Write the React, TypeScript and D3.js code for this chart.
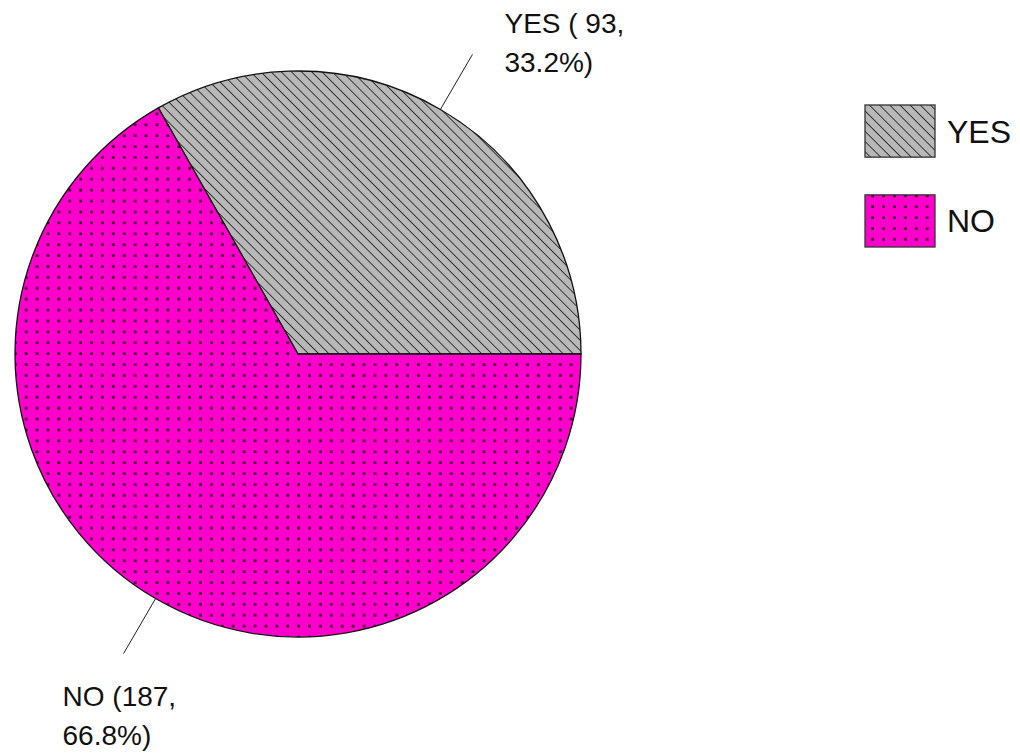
import React from "react";
import * as d3 from "d3";

const categories = ["YES", "NO"];
const values = [93, 187];
const labelLines = [
  ["YES ( 93,", "33.2%)"],
  ["NO (187,", "66.8%)"],
];

const W = 1020;
const H = 753;
const cx = 298;
const cy = 354;
const R = 283;

export default function App() {
  const pie = d3
    .pie<number>()
    .sort(null)
    .startAngle(Math.PI / 2)
    .endAngle(Math.PI / 2 - 2 * Math.PI);
  const arcs = pie(values);
  const arc = d3.arc<d3.PieArcDatum<number>>().innerRadius(0).outerRadius(R);
  const fills = ["url(#hatch)", "url(#dots)"];
  const legendY = d3.scaleBand<string>().domain(categories).range([105, 247]).paddingInner(0.42);

  return (
    <svg
      width={W}
      height={H}
      style={{ position: "absolute", left: 0, top: 0, background: "#fff" }}
      fontFamily="'Liberation Sans', Arial, sans-serif"
    >
      <defs>
        <pattern id="hatch" patternUnits="userSpaceOnUse" width="7.2" height="7.2" patternTransform="rotate(-45)">
          <rect width="7.2" height="7.2" fill="#b8b8b8" />
          <line x1="0" y1="0" x2="0" y2="7.2" stroke="#000" strokeWidth="1.4" />
        </pattern>
        <pattern id="dots" patternUnits="userSpaceOnUse" width="10.9" height="10.9" x="6" y="5">
          <rect width="10.9" height="10.9" fill="#ff00cc" />
          <rect x="4.3" y="4.3" width="2.6" height="2.6" fill="#2a0522" />
        </pattern>
      </defs>
      <g transform={`translate(${cx},${cy})`}>
        {arcs.map((a, i) => (
          <path key={i} d={arc(a) || ""} fill={fills[i]} stroke="#111" strokeWidth={1.3} />
        ))}
        {arcs.map((a, i) => {
          const mid = (a.startAngle + a.endAngle) / 2;
          const x1 = R * Math.sin(mid);
          const y1 = -R * Math.cos(mid);
          const x2 = R * 1.225 * Math.sin(mid);
          const y2 = -R * 1.225 * Math.cos(mid);
          return <line key={i} x1={x1} y1={y1} x2={x2} y2={y2} stroke="#222" strokeWidth={1} />;
        })}
        {arcs.map((a, i) => {
          const mid = (a.startAngle + a.endAngle) / 2;
          const x2 = R * 1.225 * Math.sin(mid);
          const y2 = -R * 1.225 * Math.cos(mid);
          const up = y2 < 0;
          const tx = up ? x2 + 32 : x2 - 61;
          const ty = up ? y2 - 21 : y2 + 52;
          return (
            <text key={i} x={tx} y={ty} fontSize={28} fill="#111">
              <tspan x={tx} dy={0}>{labelLines[i][0]}</tspan>
              <tspan x={tx} dy={39}>{labelLines[i][1]}</tspan>
            </text>
          );
        })}
      </g>
      <g>
        {categories.map((c, i) => (
          <g key={c}>
            <rect
              x={865}
              y={legendY(c)}
              width={70}
              height={legendY.bandwidth()}
              fill={fills[i]}
              stroke="#333"
              strokeWidth={1.3}
            />
            <text x={947} y={(legendY(c) || 0) + legendY.bandwidth() / 2 + 11.5} fontSize={32} fill="#111">
              {c}
            </text>
          </g>
        ))}
      </g>
    </svg>
  );
}
